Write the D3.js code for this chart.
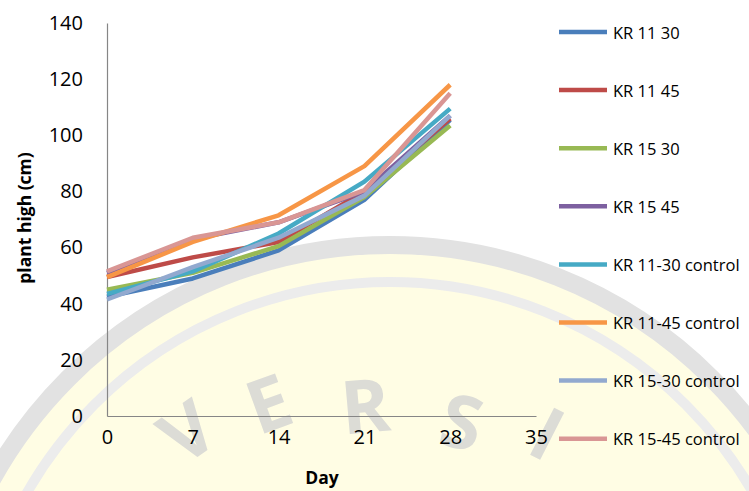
<!DOCTYPE html>
<html>
<head>
<meta charset="utf-8">
<script src="https://cdn.jsdelivr.net/npm/d3@7"></script>
<style>
  html, body { margin: 0; padding: 0; background: #fff; }
  svg { display: block; }
  text { font-family: "Open Sans", "Liberation Sans", sans-serif; fill: #000; }
</style>
</head>
<body>
<svg id="chart" width="749" height="491"></svg>
<script>
// Days of measurement
const days = [0, 7, 14, 21, 28];

// Plant height (cm) per treatment
const kr1130 = [42.5, 49, 59, 77, 105.5];
const kr1145 = [49.5, 56.5, 62, 80, 106];
const kr1530 = [45, 51, 60.5, 78, 103.5];
const kr1545 = [51, 63, 69, 80, 107];
const kr1130c = [43.5, 51.5, 65, 83.5, 109.5];
const kr1145c = [49.5, 62, 71.5, 89, 118];
const kr1530c = [41.5, 53, 63.5, 78.5, 107];
const kr1545c = [51.5, 63.5, 69, 80.5, 115];

const seriesNames = ["KR 11 30", "KR 11 45", "KR 15 30", "KR 15 45",
  "KR 11-30 control", "KR 11-45 control", "KR 15-30 control", "KR 15-45 control"];
const seriesValues = [kr1130, kr1145, kr1530, kr1545, kr1130c, kr1145c, kr1530c, kr1545c];
const seriesColors = ["#4a7ebb", "#be4b48", "#98b954", "#7d60a0",
  "#46aac5", "#f79646", "#92a9cf", "#d99694"];

const xTicks = [0, 7, 14, 21, 28, 35];
const yTicks = [0, 20, 40, 60, 80, 100, 120, 140];

const svg = d3.select("#chart");

// Background seal
const seal = svg.append("g");
const cx = 390, cy = 700;
seal.append("circle").attr("cx", cx).attr("cy", cy).attr("r", 455)
  .attr("fill", "#fffde4").attr("stroke", "#e2e2e2").attr("stroke-width", 18);
seal.append("circle").attr("cx", cx).attr("cy", cy).attr("r", 418)
  .attr("fill", "none").attr("stroke", "#ececec").attr("stroke-width", 10);
const sealLetters = ["V", "E", "R", "S", "I"];
const sealPos = [[186, 430, -35], [268, 402, -20], [365, 404, -5], [462, 420, 12], [548, 432, 27]];
sealLetters.forEach((ch, i) => {
  const [px, py, rot] = sealPos[i];
  seal.append("text")
    .attr("transform", `translate(${px},${py}) rotate(${rot})`)
    .attr("text-anchor", "middle").attr("dominant-baseline", "central")
    .style("font-size", "74px").style("font-weight", "bold")
    .style("fill", "#dcdcd6").text(ch);
});

// Scales
const x = d3.scaleLinear().domain([0, 35]).range([107, 536]);
const y = d3.scaleLinear().domain([0, 140]).range([416, 23]);

// Axes
const xAxis = d3.axisBottom(x).tickValues(xTicks).tickSize(0).tickPadding(14);
const yAxis = d3.axisLeft(y).tickValues(yTicks).tickSize(0).tickPadding(24);

const gx = svg.append("g").attr("transform", `translate(0,${y(0)})`).call(xAxis);
const gy = svg.append("g").attr("transform", `translate(${x(0)},0)`).call(yAxis);
[gx, gy].forEach(g => {
  g.select(".domain").attr("stroke", "#868686").attr("stroke-width", 1.2);
  g.selectAll("text").style("font-size", "20px").style("fill", "#000")
    .style("font-family", "'Open Sans', sans-serif");
});

// Axis titles
svg.append("text").attr("x", 322).attr("y", 484).attr("text-anchor", "middle")
  .style("font-size", "17.5px").style("font-weight", "bold").text("Day");
svg.append("text").attr("transform", "translate(31,218) rotate(-90)")
  .attr("text-anchor", "middle")
  .style("font-size", "17.5px").style("font-weight", "bold").text("plant high (cm)");

// Lines
const line = d3.line().x((d, i) => x(days[i])).y(d => y(d));
seriesValues.forEach((vals, k) => {
  svg.append("path").datum(vals)
    .attr("d", line).attr("fill", "none")
    .attr("stroke", seriesColors[k]).attr("stroke-width", 4.5)
    .attr("stroke-linejoin", "round");
});

// Legend
const legend = svg.append("g");
seriesNames.forEach((name, k) => {
  const ly = 32 + k * 58.1;
  legend.append("line").attr("x1", 559).attr("x2", 607).attr("y1", ly).attr("y2", ly)
    .attr("stroke", seriesColors[k]).attr("stroke-width", 4.5);
  legend.append("text").attr("x", 613).attr("y", ly).attr("dominant-baseline", "central")
    .style("font-size", "16.5px").text(name);
});
</script>
</body>
</html>
